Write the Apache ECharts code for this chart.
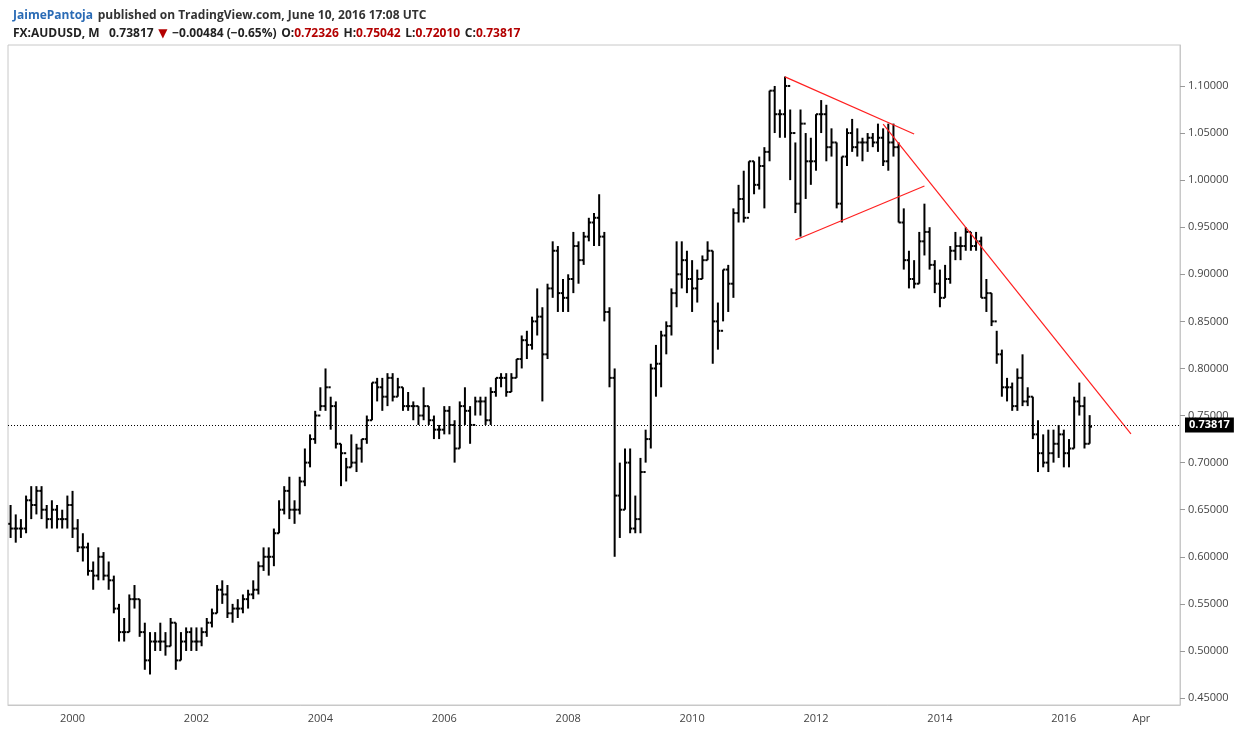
<!DOCTYPE html>
<html>
<head>
<meta charset="utf-8">
<script src="https://cdn.jsdelivr.net/npm/echarts@6/dist/echarts.min.js"></script>
<style>html,body{margin:0;padding:0;background:#fff}#chart{width:1240px;height:731px}</style>
</head>
<body>
<div id="chart"></div>
<script>
// AUDUSD monthly, Jan 1999 - Jun 2016
const closes = [
  .63,.63,.63,.66,.655,.67,.65,.64,.65,.64,.64,.655,
  .63,.61,.61,.585,.58,.60,.58,.575,.545,.52,.52,.555,
  .555,.52,.49,.51,.51,.51,.505,.53,.49,.51,.52,.51,
  .51,.52,.53,.54,.565,.56,.54,.545,.545,.555,.56,.565,
  .59,.60,.60,.625,.65,.67,.65,.65,.68,.70,.725,.75,
  .76,.78,.76,.72,.71,.695,.70,.715,.725,.745,.785,.78,
  .77,.79,.77,.78,.76,.76,.76,.75,.76,.745,.735,.735,
  .755,.74,.715,.76,.755,.74,.765,.765,.745,.775,.79,.79,
  .775,.79,.81,.83,.825,.85,.855,.815,.885,.925,.88,.875,
  .895,.93,.915,.94,.955,.96,.94,.86,.79,.665,.65,.70,
  .63,.64,.69,.725,.80,.805,.835,.845,.88,.90,.915,.895,
  .885,.895,.915,.925,.85,.84,.905,.89,.965,.98,.96,1.02,
  .995,1.015,1.03,1.095,1.07,1.07,1.10,1.05,.975,1.06,1.02,1.02,
  1.07,1.07,1.035,1.04,.975,1.025,1.05,1.035,1.04,1.04,1.045,1.04,
  1.045,1.02,1.04,1.035,.955,.915,.895,.89,.935,.945,.91,.89,
  .875,.895,.925,.93,.93,.945,.93,.935,.875,.88,.85,.815,
  .78,.78,.76,.79,.765,.77,.73,.71,.70,.71,.72,.73,
  .71,.715,.765,.76,.72,.73817
];
const highs = [
  .655,.645,.64,.665,.675,.675,.675,.655,.66,.655,.65,.665,
  .67,.64,.625,.615,.595,.61,.605,.595,.58,.55,.535,.56,
  .57,.555,.53,.52,.52,.53,.52,.535,.53,.52,.525,.525,
  .525,.525,.535,.545,.57,.575,.57,.55,.555,.56,.565,.575,
  .595,.61,.61,.63,.66,.675,.685,.66,.685,.715,.73,.755,
  .78,.80,.77,.765,.72,.705,.73,.72,.725,.75,.785,.79,
  .79,.795,.795,.79,.78,.775,.765,.76,.78,.76,.75,.74,
  .76,.76,.745,.765,.78,.76,.77,.77,.77,.78,.79,.795,
  .795,.795,.81,.835,.84,.855,.885,.865,.89,.935,.93,.895,
  .90,.945,.935,.945,.96,.965,.985,.945,.865,.80,.70,.715,
  .715,.665,.705,.735,.805,.825,.84,.85,.885,.935,.935,.925,
  .915,.905,.92,.935,.925,.87,.905,.91,.97,.995,1.01,1.02,
  1.02,1.025,1.035,1.095,1.10,1.075,1.11,1.075,1.04,1.075,1.05,1.045,
  1.07,1.085,1.08,1.055,1.04,1.025,1.055,1.065,1.055,1.045,1.05,1.05,
  1.06,1.055,1.06,1.06,1.04,.97,.925,.915,.945,.975,.95,.915,
  .905,.91,.93,.945,.94,.95,.945,.945,.94,.895,.88,.84,
  .82,.79,.785,.80,.815,.78,.77,.745,.73,.735,.735,.74,
  .735,.725,.77,.785,.77,.75042
];
const lows = [
  .62,.615,.62,.625,.64,.645,.64,.63,.63,.63,.63,.63,
  .62,.605,.595,.58,.565,.575,.575,.565,.54,.51,.51,.52,
  .545,.515,.48,.475,.50,.50,.495,.505,.48,.49,.50,.50,
  .50,.505,.515,.525,.54,.55,.535,.53,.535,.54,.545,.555,
  .56,.585,.58,.59,.625,.645,.64,.635,.645,.675,.695,.72,
  .755,.755,.735,.715,.675,.68,.695,.69,.70,.72,.745,.765,
  .755,.76,.765,.77,.755,.755,.745,.74,.745,.74,.725,.725,
  .73,.73,.70,.715,.74,.72,.75,.75,.74,.74,.77,.78,
  .77,.775,.79,.80,.81,.82,.835,.765,.81,.875,.86,.86,
  .86,.88,.89,.91,.935,.93,.93,.85,.78,.60,.62,.65,
  .625,.625,.625,.70,.715,.77,.78,.815,.835,.865,.885,.88,
  .86,.87,.895,.915,.805,.82,.85,.86,.875,.955,.955,.965,
  .985,.99,.97,1.02,1.05,1.045,1.045,1.00,.965,.94,.98,.995,
  1.01,1.05,1.02,1.025,.97,.955,1.015,1.03,1.025,1.02,1.03,1.035,
  1.03,1.015,1.01,1.025,.955,.905,.885,.885,.89,.92,.905,.88,
  .865,.875,.89,.915,.915,.925,.925,.925,.875,.86,.845,.805,
  .77,.765,.755,.755,.76,.76,.725,.69,.695,.69,.70,.705,
  .695,.695,.715,.75,.715,.72010
];
const firstOpen = .635;
const lastClose = 0.73817;
const yTicks = [0.45,0.5,0.55,0.6,0.65,0.7,0.75,0.8,0.85,0.9,0.95,1.0,1.05,1.1];
// red trendlines [month index, price]
const trendLines = [
  [[150, 1.1096], [175, 1.049]],
  [[152, 0.9364], [177, 0.9938]],
  [[169, 1.0596], [217, 0.7304]]
];

// months Jan 1999 .. Nov 2017
const months = [];
for (let i = 0; i < 227; i++) months.push((1999 + Math.floor(i / 12)) + '-' + (i % 12 + 1));

const ohlc = closes.map((c, i) => [i, i === 0 ? firstOpen : closes[i - 1], highs[i], lows[i], c]);

const chart = echarts.init(document.getElementById('chart'));
const option = {
  animation: false,
  textStyle: { fontFamily: 'Open Sans, DejaVu Sans, sans-serif' },
  title: [
    {
      left: 8, top: 2,
      text: '{a|JaimePantoja} {b|published on TradingView.com, June 10, 2016 17:08 UTC}',
      textStyle: { rich: {
        a: { color: '#2a6bb5', fontWeight: 'bold', fontSize: 12 },
        b: { color: '#333', fontSize: 12 }
      } }
    },
    {
      left: 8, top: 20,
      text: '{k|FX:AUDUSD, M}  {n|0.73817} {r|▼} {n|−0.00484 (−0.65%)} {k|O:}{r|0.72326} {k|H:}{r|0.75042} {k|L:}{r|0.72010} {k|C:}{r|0.73817}',
      textStyle: { rich: {
        k: { color: '#222', fontWeight: 'bold', fontSize: 12 },
        n: { color: '#222', fontSize: 12 },
        r: { color: '#b30000', fontSize: 12 }
      } }
    }
  ],
  grid: { left: 8, right: 60, top: 45, bottom: 26, show: true, borderColor: '#c8c8c8', borderWidth: 1 },
  xAxis: {
    type: 'category', data: months, boundaryGap: true,
    axisLine: { lineStyle: { color: '#c8c8c8' } },
    axisTick: { show: false },
    splitLine: { show: false },
    axisLabel: {
      color: '#444', fontSize: 11,
      interval: (i) => (i % 24 === 12 && i < 216) || i === 219,
      formatter: (v, i) => i === 219 ? 'Apr' : v.split('-')[0]
    }
  },
  yAxis: {
    type: 'value', position: 'right', min: 0.4426, max: 1.1435, scale: true,
    axisLine: { show: true, lineStyle: { color: '#c8c8c8' } },
    axisTick: { show: true, customValues: yTicks, lineStyle: { color: '#999' } },
    splitLine: { show: false },
    axisLabel: { color: '#444', fontSize: 11, customValues: yTicks, formatter: (v) => v.toFixed(5) }
  },
  series: [
    {
      type: 'custom',
      data: ohlc,
      encode: { x: 0, y: [1, 2, 3, 4] },
      renderItem: (params, api) => {
        const x = api.value(0);
        const o = api.coord([x, api.value(1)]);
        const h = api.coord([x, api.value(2)]);
        const l = api.coord([x, api.value(3)]);
        const c = api.coord([x, api.value(4)]);
        const w = api.size([1, 0])[0] * 0.45;
        const st = { stroke: '#000', lineWidth: 2 };
        return { type: 'group', children: [
          { type: 'line', shape: { x1: h[0], y1: h[1], x2: l[0], y2: l[1] }, style: st },
          { type: 'line', shape: { x1: o[0] - w, y1: o[1], x2: o[0], y2: o[1] }, style: st },
          { type: 'line', shape: { x1: c[0], y1: c[1], x2: c[0] + w, y2: c[1] }, style: st }
        ] };
      },
      markLine: {
        symbol: 'none', silent: true,
        lineStyle: { color: '#000', type: [1, 2], width: 1 },
        label: {
          position: 'end', formatter: lastClose.toFixed(5),
          backgroundColor: '#000', color: '#fff', fontWeight: 'bold', fontSize: 11, padding: [2, 4]
        },
        data: [{ yAxis: lastClose }]
      }
    },
    ...trendLines.map(d => ({
      type: 'line', data: d, symbol: 'none',
      lineStyle: { color: '#ff2020', width: 1.2 }
    }))
  ]
};
chart.setOption(option);
</script>
</body>
</html>
